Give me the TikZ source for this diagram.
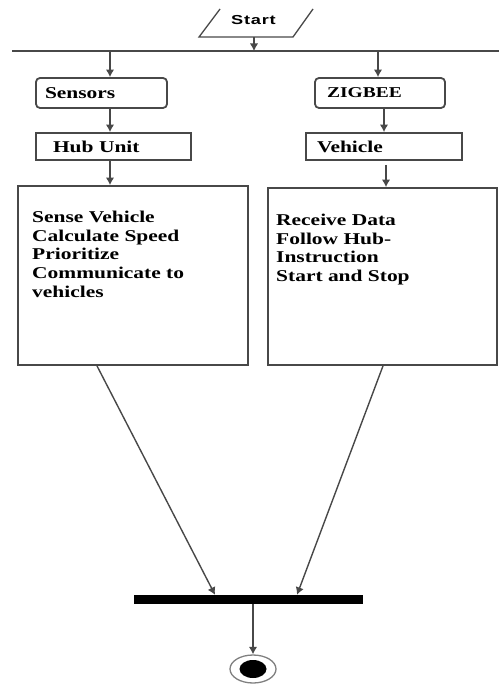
\documentclass[tikz,border=0pt]{standalone}
\usepackage{fontspec}
\setmainfont{Liberation Serif}
\newfontfamily\boxfont[FakeStretch=1.3]{Liberation Serif}
\newfontfamily\startfont[FakeStretch=1.4,LetterSpace=6]{Liberation Sans}
\usetikzlibrary{shapes.geometric,arrows.meta,calc}
\definecolor{edge}{HTML}{484848}
\begin{document}
\begin{tikzpicture}[x=1pt,y=-1pt,
  arr/.style={draw=edge, line width=1.4pt, -{Latex[length=7.5pt,width=8.5pt]}},
  boxbase/.style={draw=edge, line width=1.8pt, align=left, inner ysep=0pt,
    font={\boxfont\bfseries\fontsize{16.5}{18}\selectfont}},
  roundbox/.style={boxbase, rounded corners=4pt},
  bigbox/.style={draw=edge, line width=1.8pt, inner sep=0pt},
  bodytext/.style={align=left, inner sep=0pt,
    font={\boxfont\bfseries\fontsize{16.5}{18.6}\selectfont}}]
\useasboundingbox (0,0) rectangle (499,684);

% start
\node[inner sep=0pt, font={\startfont\bfseries\fontsize{13}{14}\selectfont}] (start) at (253.5,20.5) {Start};
\draw[draw=edge, line width=1.3pt] (220,9) -- (199,37) -- (293,37) -- (313,9);
\coordinate (startbase) at (254,37);
\coordinate (busC) at (254,51);
\coordinate (busW) at (12,51);
\coordinate (busE) at (499,51);
\coordinate (busL) at (110,51);
\coordinate (busR) at (378,51);
\draw[draw=edge, line width=1.6pt] (busW) -- (busE);
\draw[arr] (startbase) -- (busC);

% left column
\node[roundbox, minimum width=131pt, minimum height=30pt, text width=113pt, inner xsep=9pt] (sensors) at (101.5,93) {Sensors};
\node[boxbase, minimum width=155pt, minimum height=27pt, text width=121pt, inner xsep=17pt] (hub) at (113.5,146.5) {Hub Unit};
\node[bigbox, minimum width=230pt, minimum height=179pt] (hubproc) at (133,275.5) {};
\node[bodytext, anchor=north west] (hubtxt) at (32,211) {Sense Vehicle\\Calculate Speed\\Prioritize\\Communicate to\\vehicles};

% right column
\node[roundbox, minimum width=130pt, minimum height=30pt, text width=106pt, inner xsep=12pt,
  font={\boxfont\bfseries\fontsize{15}{17}\selectfont}] (zig) at (380,93) {ZIGBEE};
\node[boxbase, minimum width=156pt, minimum height=27pt, text width=134pt, inner xsep=11pt] (veh) at (384,146.5) {Vehicle};
\node[bigbox, minimum width=229pt, minimum height=177pt] (vehproc) at (382.5,276.5) {};
\node[bodytext, anchor=north west] (vehtxt) at (276,214) {Receive Data\\Follow Hub-\\Instruction\\Start and Stop};

% arrows
\draw[arr] (busL) -- (busL |- sensors.north);
\draw[arr] (sensors.south -| busL) -- (hub.north -| busL);
\draw[arr] (hub.south -| busL) -- (hubproc.north -| busL);
\draw[arr] (busR) -- (busR |- zig.north);
\draw[arr] (zig.south -| veh.north) -- (veh.north);
\coordinate (vcol) at ($(veh.south)+(2,0)$);
\draw[arr, shorten <=4pt] (vcol) -- (vcol |- vehproc.north);

% join bar and end
\node[fill=black, minimum width=229pt, minimum height=9pt, inner sep=0pt] (join) at (248.5,599.5) {};
\draw[arr] ($(hubproc.south)+(-36,0)$) -- ($(join.north)+(-33.5,0)$);
\draw[arr] ($(vehproc.south)+(0.5,0)$) -- ($(join.north)+(48.5,0)$);
\node[draw=gray, line width=1.3pt, ellipse, minimum width=46pt, minimum height=28pt, inner sep=0pt] (endo) at (253,669) {};
\node[fill=black, ellipse, minimum width=27pt, minimum height=18pt, inner sep=0pt] (endi) at (253,669) {};
\draw[arr] ($(join.south)+(4.5,0)$) -- (endo.north);
\end{tikzpicture}
\end{document}
